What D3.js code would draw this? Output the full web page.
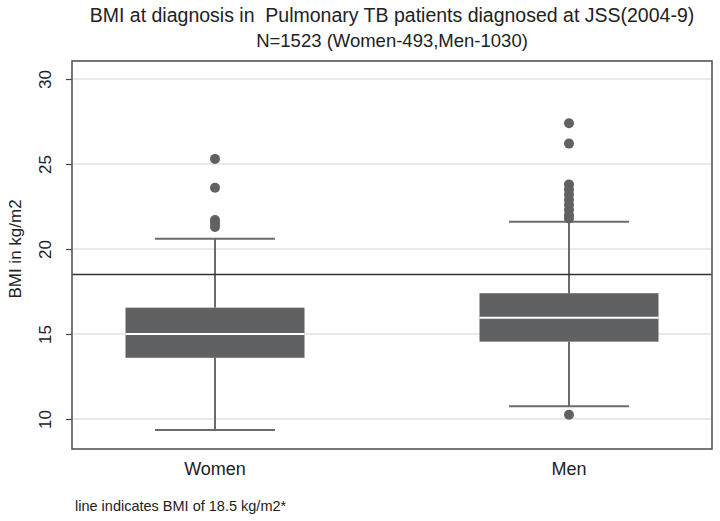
<!DOCTYPE html>
<html><head><meta charset="utf-8">
<script src="https://cdn.jsdelivr.net/npm/d3@7/dist/d3.min.js"></script>
<style>body{margin:0;background:#fff}svg{display:block;font-family:"Liberation Sans",Arial,sans-serif}</style>
</head><body><svg id="c" width="720" height="521"></svg>
<script>
const categories = ["Women", "Men"];
const q1 = [13.6, 14.55];
const median = [15.0, 15.95];
const q3 = [16.55, 17.4];
const whiskerLow = [9.35, 10.75];
const whiskerHigh = [20.6, 21.6];
const outliersWomen = [25.3, 23.6, 21.7, 21.5, 21.3];
const outliersMen = [27.4, 26.2, 23.8, 23.5, 23.2, 22.9, 22.6, 22.3, 22.0, 21.8, 10.25];
const yTicks = [10, 15, 20, 25, 30];
const refValue = 18.5;
const titleLine1 = "BMI at diagnosis in  Pulmonary TB patients diagnosed at JSS(2004-9)";
const titleLine2 = "N=1523 (Women-493,Men-1030)";
const yLabel = "BMI in kg/m2";
const footnote = "line indicates BMI of 18.5 kg/m2*";

const outliers = [outliersWomen, outliersMen];
const svg = d3.select("#c");
const L = 72, R = 712, T = 61, B = 449;
const y = d3.scaleLinear().domain([10, 30]).range([419, 79]);
const x = d3.scalePoint().domain(categories).range([L, R]).padding(0.404);
const boxW = 179, capW = 120;

// gridlines
svg.append("g").selectAll("line").data(yTicks).join("line")
  .attr("x1", L).attr("x2", R).attr("y1", d => y(d)).attr("y2", d => y(d))
  .attr("stroke", "#e2e2e2").attr("stroke-width", 1.5);

// y axis
const yAxis = d3.axisLeft(y).tickValues(yTicks).tickSize(6).tickPadding(0).tickFormat(d3.format("d"));
const ga = svg.append("g").attr("transform", `translate(${L},0)`).call(yAxis);
ga.select(".domain").remove();
ga.selectAll(".tick line").attr("stroke", "#444").attr("stroke-width", 1.2);
ga.selectAll(".tick text").attr("transform", "translate(-27,0) rotate(-90)")
  .attr("x", 0).attr("y", 0).attr("dy", "0.35em").attr("text-anchor", "middle")
  .attr("font-size", 17).attr("fill", "#222").style("font-family", '"Liberation Sans",Arial,sans-serif');

// boxes
const g = svg.append("g");
categories.forEach((c, i) => {
  const cx = x(c);
  g.append("line").attr("x1", cx).attr("x2", cx).attr("y1", y(whiskerHigh[i])).attr("y2", y(q3[i]))
    .attr("stroke", "#6b6b6b").attr("stroke-width", 2);
  g.append("line").attr("x1", cx).attr("x2", cx).attr("y1", y(q1[i])).attr("y2", y(whiskerLow[i]))
    .attr("stroke", "#6b6b6b").attr("stroke-width", 2);
  [whiskerHigh[i], whiskerLow[i]].forEach(v => {
    g.append("line").attr("x1", cx - capW / 2).attr("x2", cx + capW / 2).attr("y1", y(v)).attr("y2", y(v))
      .attr("stroke", "#6b6b6b").attr("stroke-width", 2);
  });
  g.append("rect").attr("x", cx - boxW / 2).attr("width", boxW)
    .attr("y", y(q3[i])).attr("height", y(q1[i]) - y(q3[i])).attr("fill", "#606163");
  g.append("line").attr("x1", cx - boxW / 2).attr("x2", cx + boxW / 2).attr("y1", y(median[i])).attr("y2", y(median[i]))
    .attr("stroke", "#fff").attr("stroke-width", 2);
  g.selectAll(null).data(outliers[i]).join("circle")
    .attr("cx", cx).attr("cy", d => y(d)).attr("r", 5).attr("fill", "#606163");
});

// reference line
svg.append("line").attr("x1", L).attr("x2", R).attr("y1", y(refValue)).attr("y2", y(refValue))
  .attr("stroke", "#333").attr("stroke-width", 1.6);

// frame
svg.append("rect").attr("x", L).attr("y", T).attr("width", R - L).attr("height", B - T)
  .attr("fill", "none").attr("stroke", "#555").attr("stroke-width", 1.6);

// x labels
svg.append("g").selectAll("text").data(categories).join("text")
  .attr("x", d => x(d)).attr("y", 475).attr("text-anchor", "middle")
  .attr("font-size", 18).attr("fill", "#222").text(d => d);

// titles
svg.append("text").attr("x", 392).attr("y", 22).attr("text-anchor", "middle")
  .attr("font-size", 19.5).attr("fill", "#222").style("white-space", "pre").text(titleLine1);
svg.append("text").attr("x", 392).attr("y", 47).attr("text-anchor", "middle")
  .attr("font-size", 18.5).attr("fill", "#222").text(titleLine2);

// y label
svg.append("text").attr("transform", `translate(21,${y(20)}) rotate(-90)`).attr("text-anchor", "middle")
  .attr("font-size", 17).attr("fill", "#222").text(yLabel);

// footnote
svg.append("text").attr("x", 75).attr("y", 511).attr("font-size", 14.5).attr("fill", "#222").text(footnote);
</script></body></html>
